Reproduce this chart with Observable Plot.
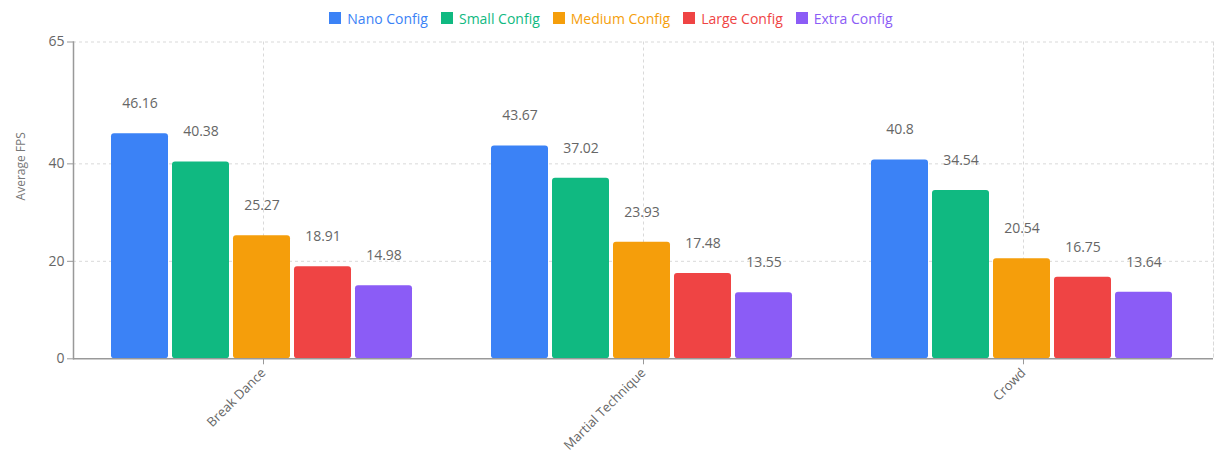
<!DOCTYPE html>
<html>
<head>
<meta charset="utf-8">
<script src="https://cdn.jsdelivr.net/npm/d3@7"></script>
<script src="https://cdn.jsdelivr.net/npm/@observablehq/plot@0.6"></script>
<style>
  html, body { margin: 0; padding: 0; background: #fff; }
  body { width: 1216px; height: 457px; overflow: hidden; font-family: "Open Sans", sans-serif; position: relative; }
  #legend { position: absolute; left: 0; top: 0; width: 1216px; height: 36px; display: flex; justify-content: center; align-items: center; gap: 13px; font-size: 14px; z-index: 1; padding-left: 6px; box-sizing: border-box; }
  #legend .item { display: flex; align-items: center; gap: 6px; }
  #legend .swatch { width: 12px; height: 12px; display: inline-block; }
  #chart svg { display: block; }
</style>
</head>
<body>
<div id="legend"></div>
<div id="chart"></div>
<script>
// Scenes and model sizes
const categories = ["Break Dance", "Martial Technique", "Crowd"];
const configs = ["Nano Config", "Small Config", "Medium Config", "Large Config", "Extra Config"];
const colors = ["#3b82f6", "#10b981", "#f59e0b", "#ef4444", "#8b5cf6"];

// Average FPS per scene, one array per config
const nano   = [46.16, 43.67, 40.8];
const small  = [40.38, 37.02, 34.54];
const medium = [25.27, 23.93, 20.54];
const large  = [18.91, 17.48, 16.75];
const extra  = [14.98, 13.55, 13.64];
const series = [nano, small, medium, large, extra];

const yTicks = [0, 20, 40, 65];

const rows = categories.flatMap((category, i) =>
  configs.map((config, j) => ({category, config, fps: series[j][i]}))
);

// Legend
const legend = document.getElementById("legend");
configs.forEach((c, j) => {
  const item = document.createElement("div");
  item.className = "item";
  item.innerHTML = `<span class="swatch" style="background:${colors[j]}"></span><span style="color:${colors[j]}">${c}</span>`;
  legend.appendChild(item);
});

const gridStyle = {stroke: "#d9d9d9", strokeOpacity: 1, strokeDasharray: "3,3"};
const axisColor = "#666";

const chart = Plot.plot({
  width: 1216,
  height: 457,
  marginTop: 41.5,
  marginBottom: 98.7,
  marginLeft: 72,
  marginRight: 2,
  style: {fontFamily: "Open Sans, sans-serif", color: axisColor},
  fx: {domain: categories, padding: 0, label: null},
  x: {domain: configs, axis: null, paddingInner: 0.066, paddingOuter: 0.6, align: 0.48},
  y: {domain: [0, 65], label: null},
  color: {domain: configs, range: colors},
  marks: [
    Plot.gridY(yTicks.filter(d => d > 0), gridStyle),
    Plot.gridFx(gridStyle),
    Plot.frame({anchor: "right", fx: [categories[categories.length - 1]], ...gridStyle}),
    Plot.barY(rows, {fx: "category", x: "config", y: "fps", fill: "config", rx: 3}),
    Plot.text(rows, {fx: "category", x: "config", y: "fps", text: d => String(d.fps), dy: -30, fill: "#666", fontSize: 14}),
    Plot.ruleY([0], {stroke: "#999", strokeWidth: 1.5}),
    Plot.frame({anchor: "left", fx: [categories[0]], stroke: "#999", strokeWidth: 1.5}),
    Plot.axisY(yTicks, {ticks: yTicks, tickSize: 6, fontSize: 14, label: null, stroke: "#999", fill: axisColor}),
    Plot.axisFx({anchor: "bottom", tickRotate: -45, tickSize: 6, fontSize: 13, label: null, stroke: "#999", fill: axisColor}),
    Plot.text(["Average FPS"], {fx: [categories[0]], frameAnchor: "left", rotate: -90, dx: -52, dy: 0, fontSize: 12, fill: "#777"})
  ]
});

document.getElementById("chart").appendChild(chart);
</script>
</body>
</html>
